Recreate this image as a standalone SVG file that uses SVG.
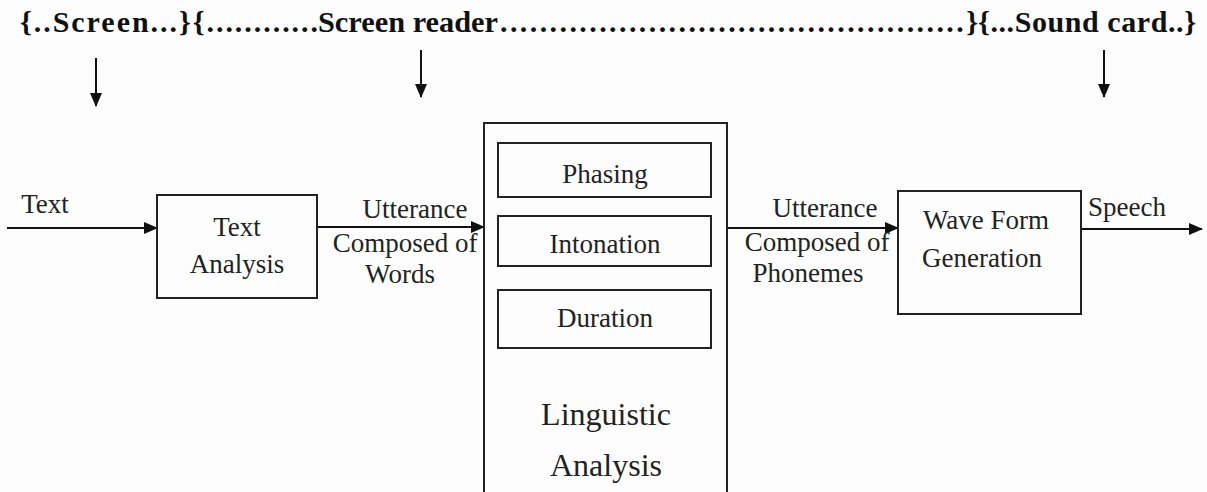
<svg xmlns="http://www.w3.org/2000/svg" width="1207" height="492" viewBox="0 0 1207 492">
<defs>
<marker id="ah" markerWidth="14" markerHeight="12" refX="13" refY="6" orient="auto" markerUnits="userSpaceOnUse">
<path d="M0,0 L14,6 L0,12 Z" fill="#111"/>
</marker>
<style>
.hd{font-family:"Liberation Serif","Times New Roman",serif;font-weight:bold;font-size:30px;fill:#111}
.lb{font-family:"Liberation Serif","Times New Roman",serif;font-size:27px;fill:#222;text-anchor:middle}
.big{font-family:"Liberation Serif","Times New Roman",serif;font-size:32px;fill:#222;text-anchor:middle}
.box{fill:none;stroke:#222;stroke-width:2}
.ln{stroke:#111;stroke-width:2;fill:none;marker-end:url(#ah)}
</style>
</defs>
<rect width="1207" height="492" fill="#fdfdfd"/>
<g id="header">
<text class="hd" y="32"><tspan x="20" textLength="298" lengthAdjust="spacing">{..Screen...}{............</tspan><tspan x="318" textLength="180" lengthAdjust="spacingAndGlyphs">Screen reader</tspan><tspan x="500" textLength="478" lengthAdjust="spacing">...............................................}</tspan><tspan x="978" textLength="218" lengthAdjust="spacing">{...Sound card..}</tspan></text>
</g>
<g id="connectors">
<line class="ln" x1="96" y1="58" x2="96" y2="106"/>
<line class="ln" x1="421" y1="50" x2="421" y2="97"/>
<line class="ln" x1="1104" y1="50" x2="1104" y2="97"/>
<line class="ln" x1="7" y1="228" x2="157" y2="228"/>
<line class="ln" x1="317" y1="227" x2="484" y2="227"/>
<line class="ln" x1="727" y1="228" x2="898" y2="228"/>
<line class="ln" x1="1081" y1="229" x2="1202" y2="229"/>
</g>
<g id="text-label">
<text class="lb" x="45" y="213">Text</text>
</g>
<g id="text-analysis">
<rect class="box" x="157" y="195" width="160" height="103"/>
<text class="lb" x="237" y="236">Text</text>
<text class="lb" x="237" y="273">Analysis</text>
</g>
<g id="utterance-words">
<text class="lb" x="415" y="218">Utterance</text>
<text class="lb" x="405" y="252">Composed of</text>
<text class="lb" x="400" y="283">Words</text>
</g>
<g id="linguistic-analysis">
<rect class="box" x="484" y="123" width="243" height="380"/>
<text class="big" x="606" y="425">Linguistic</text>
<text class="big" x="606" y="476">Analysis</text>
</g>
<g id="phasing">
<rect class="box" x="498" y="143" width="213" height="54"/>
<text class="lb" x="605" y="183">Phasing</text>
</g>
<g id="intonation">
<rect class="box" x="498" y="216" width="213" height="50"/>
<text class="lb" x="605" y="253">Intonation</text>
</g>
<g id="duration">
<rect class="box" x="498" y="290" width="213" height="58"/>
<text class="lb" x="605" y="327">Duration</text>
</g>
<g id="utterance-phonemes">
<text class="lb" x="825" y="217">Utterance</text>
<text class="lb" x="817" y="251">Composed of</text>
<text class="lb" x="808" y="282">Phonemes</text>
</g>
<g id="wave-form-generation">
<rect class="box" x="898" y="191" width="183" height="123"/>
<text class="lb" x="986" y="229">Wave Form</text>
<text class="lb" x="982" y="267">Generation</text>
</g>
<g id="speech-label">
<text class="lb" x="1127" y="216">Speech</text>
</g>
</svg>
